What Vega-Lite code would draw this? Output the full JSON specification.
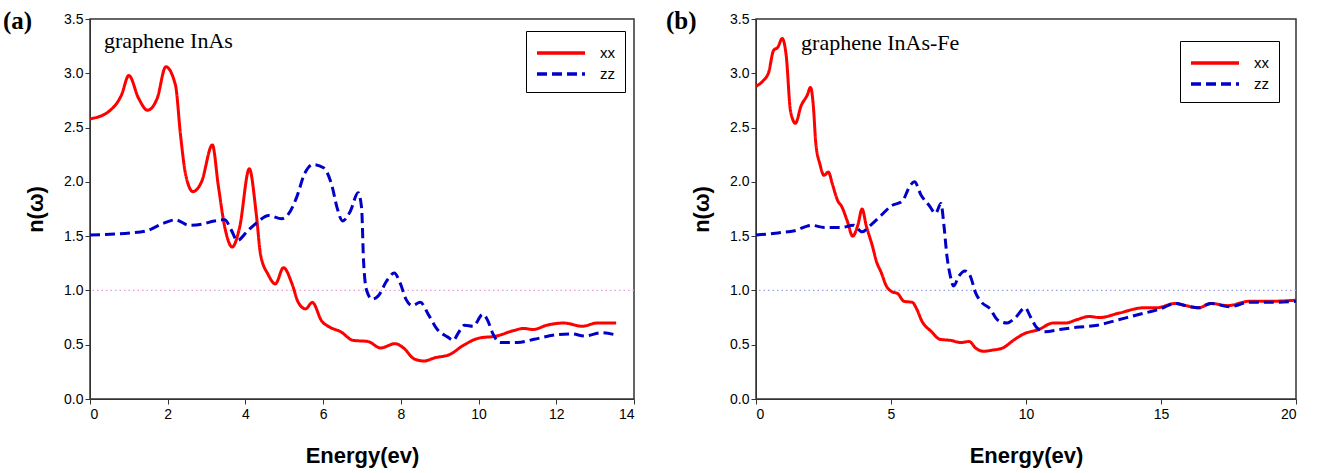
{
  "$schema": "https://vega.github.io/schema/vega-lite/v6.json",
  "padding": {"left": 2, "top": 8, "right": 5, "bottom": 2},
  "background": "white",
  "spacing": 29,
  "config": {
    "view": {"stroke": "#333333", "strokeWidth": 1.5},
    "axis": {
      "grid": false,
      "domainColor": "#333333",
      "tickColor": "#333333",
      "tickSize": 5,
      "labelFont": "Liberation Sans",
      "labelFontSize": 14,
      "labelColor": "black",
      "titleFont": "Liberation Sans",
      "titleFontSize": 22,
      "titleFontWeight": "bold",
      "titleColor": "black"
    },
    "legend": {
      "orient": "none",
      "strokeColor": "black",
      "fillColor": "white",
      "padding": 10,
      "symbolType": "M-2.4,0H2.4",
      "symbolSize": 400,
      "symbolStrokeWidth": 3.5,
      "symbolOffset": 13,
      "labelFont": "Liberation Sans",
      "labelFontSize": 15,
      "labelColor": "black",
      "labelOffset": 27,
      "rowPadding": 1
    },
    "title": {"font": "Liberation Serif", "fontSize": 25, "fontWeight": "bold", "color": "black", "anchor": "start", "frame": "group"}
  },
  "datasets": {
    "a": [
      {"E": 0, "n": 2.58, "s": "xx"}, {"E": 0.49, "n": 2.65, "s": "xx"}, {"E": 0.81, "n": 2.8, "s": "xx"}, {"E": 1.0, "n": 2.98, "s": "xx"},
      {"E": 1.25, "n": 2.77, "s": "xx"}, {"E": 1.48, "n": 2.66, "s": "xx"}, {"E": 1.73, "n": 2.77, "s": "xx"}, {"E": 1.95, "n": 3.06, "s": "xx"},
      {"E": 2.2, "n": 2.89, "s": "xx"}, {"E": 2.33, "n": 2.43, "s": "xx"}, {"E": 2.46, "n": 2.07, "s": "xx"}, {"E": 2.65, "n": 1.91, "s": "xx"},
      {"E": 2.87, "n": 2.0, "s": "xx"}, {"E": 3.15, "n": 2.34, "s": "xx"}, {"E": 3.3, "n": 1.97, "s": "xx"}, {"E": 3.47, "n": 1.58, "s": "xx"},
      {"E": 3.66, "n": 1.4, "s": "xx"}, {"E": 3.85, "n": 1.58, "s": "xx"}, {"E": 4.1, "n": 2.12, "s": "xx"}, {"E": 4.28, "n": 1.7, "s": "xx"},
      {"E": 4.39, "n": 1.33, "s": "xx"}, {"E": 4.58, "n": 1.15, "s": "xx"}, {"E": 4.77, "n": 1.06, "s": "xx"}, {"E": 4.98, "n": 1.21, "s": "xx"},
      {"E": 5.2, "n": 1.06, "s": "xx"}, {"E": 5.36, "n": 0.89, "s": "xx"}, {"E": 5.55, "n": 0.83, "s": "xx"}, {"E": 5.72, "n": 0.89, "s": "xx"},
      {"E": 5.96, "n": 0.72, "s": "xx"}, {"E": 6.18, "n": 0.66, "s": "xx"}, {"E": 6.45, "n": 0.62, "s": "xx"}, {"E": 6.77, "n": 0.54, "s": "xx"},
      {"E": 7.15, "n": 0.53, "s": "xx"}, {"E": 7.48, "n": 0.47, "s": "xx"}, {"E": 7.85, "n": 0.51, "s": "xx"}, {"E": 8.07, "n": 0.47, "s": "xx"},
      {"E": 8.34, "n": 0.37, "s": "xx"}, {"E": 8.59, "n": 0.35, "s": "xx"}, {"E": 8.88, "n": 0.38, "s": "xx"}, {"E": 9.26, "n": 0.41, "s": "xx"},
      {"E": 9.59, "n": 0.49, "s": "xx"}, {"E": 10.0, "n": 0.56, "s": "xx"}, {"E": 10.46, "n": 0.58, "s": "xx"}, {"E": 10.9, "n": 0.63, "s": "xx"},
      {"E": 11.16, "n": 0.65, "s": "xx"}, {"E": 11.4, "n": 0.64, "s": "xx"}, {"E": 11.76, "n": 0.68, "s": "xx"}, {"E": 12.19, "n": 0.7, "s": "xx"},
      {"E": 12.67, "n": 0.67, "s": "xx"}, {"E": 13.05, "n": 0.7, "s": "xx"}, {"E": 13.54, "n": 0.7, "s": "xx"},
      {"E": 0, "n": 1.51, "s": "zz"}, {"E": 1.03, "n": 1.53, "s": "zz"}, {"E": 1.46, "n": 1.55, "s": "zz"}, {"E": 1.9, "n": 1.62, "s": "zz"},
      {"E": 2.2, "n": 1.65, "s": "zz"}, {"E": 2.55, "n": 1.6, "s": "zz"}, {"E": 2.87, "n": 1.61, "s": "zz"}, {"E": 3.2, "n": 1.64, "s": "zz"},
      {"E": 3.47, "n": 1.65, "s": "zz"}, {"E": 3.63, "n": 1.56, "s": "zz"}, {"E": 3.79, "n": 1.46, "s": "zz"}, {"E": 4.06, "n": 1.55, "s": "zz"},
      {"E": 4.28, "n": 1.62, "s": "zz"}, {"E": 4.6, "n": 1.69, "s": "zz"}, {"E": 4.93, "n": 1.66, "s": "zz"}, {"E": 5.1, "n": 1.7, "s": "zz"},
      {"E": 5.31, "n": 1.85, "s": "zz"}, {"E": 5.53, "n": 2.08, "s": "zz"}, {"E": 5.74, "n": 2.16, "s": "zz"}, {"E": 6.01, "n": 2.13, "s": "zz"},
      {"E": 6.23, "n": 1.96, "s": "zz"}, {"E": 6.36, "n": 1.76, "s": "zz"}, {"E": 6.5, "n": 1.64, "s": "zz"}, {"E": 6.7, "n": 1.73, "s": "zz"},
      {"E": 6.9, "n": 1.9, "s": "zz"}, {"E": 6.99, "n": 1.76, "s": "zz"}, {"E": 7.04, "n": 1.27, "s": "zz"}, {"E": 7.12, "n": 1.0, "s": "zz"},
      {"E": 7.26, "n": 0.92, "s": "zz"}, {"E": 7.42, "n": 0.95, "s": "zz"}, {"E": 7.64, "n": 1.09, "s": "zz"}, {"E": 7.83, "n": 1.16, "s": "zz"},
      {"E": 7.98, "n": 1.07, "s": "zz"}, {"E": 8.13, "n": 0.92, "s": "zz"}, {"E": 8.29, "n": 0.86, "s": "zz"}, {"E": 8.5, "n": 0.89, "s": "zz"},
      {"E": 8.72, "n": 0.77, "s": "zz"}, {"E": 8.94, "n": 0.64, "s": "zz"}, {"E": 9.21, "n": 0.57, "s": "zz"}, {"E": 9.35, "n": 0.54, "s": "zz"},
      {"E": 9.48, "n": 0.61, "s": "zz"}, {"E": 9.64, "n": 0.68, "s": "zz"}, {"E": 9.86, "n": 0.67, "s": "zz"}, {"E": 10.11, "n": 0.78, "s": "zz"},
      {"E": 10.24, "n": 0.72, "s": "zz"}, {"E": 10.37, "n": 0.6, "s": "zz"}, {"E": 10.56, "n": 0.52, "s": "zz"}, {"E": 11.0, "n": 0.52, "s": "zz"},
      {"E": 11.43, "n": 0.55, "s": "zz"}, {"E": 11.97, "n": 0.59, "s": "zz"}, {"E": 12.4, "n": 0.6, "s": "zz"}, {"E": 12.73, "n": 0.58, "s": "zz"},
      {"E": 13.16, "n": 0.61, "s": "zz"}, {"E": 13.54, "n": 0.59, "s": "zz"}
    ],
    "b": [
      {"E": 0, "n": 2.88, "s": "xx"}, {"E": 0.26, "n": 2.93, "s": "xx"}, {"E": 0.47, "n": 3.01, "s": "xx"}, {"E": 0.65, "n": 3.21, "s": "xx"},
      {"E": 0.81, "n": 3.24, "s": "xx"}, {"E": 0.97, "n": 3.32, "s": "xx"}, {"E": 1.12, "n": 3.16, "s": "xx"}, {"E": 1.28, "n": 2.65, "s": "xx"},
      {"E": 1.46, "n": 2.54, "s": "xx"}, {"E": 1.67, "n": 2.7, "s": "xx"}, {"E": 1.9, "n": 2.8, "s": "xx"}, {"E": 2.02, "n": 2.87, "s": "xx"},
      {"E": 2.13, "n": 2.68, "s": "xx"}, {"E": 2.21, "n": 2.37, "s": "xx"}, {"E": 2.37, "n": 2.16, "s": "xx"}, {"E": 2.52, "n": 2.06, "s": "xx"},
      {"E": 2.68, "n": 2.09, "s": "xx"}, {"E": 2.84, "n": 1.97, "s": "xx"}, {"E": 3.02, "n": 1.83, "s": "xx"}, {"E": 3.18, "n": 1.77, "s": "xx"},
      {"E": 3.38, "n": 1.64, "s": "xx"}, {"E": 3.58, "n": 1.5, "s": "xx"}, {"E": 3.77, "n": 1.6, "s": "xx"}, {"E": 3.93, "n": 1.75, "s": "xx"},
      {"E": 4.08, "n": 1.6, "s": "xx"}, {"E": 4.31, "n": 1.41, "s": "xx"}, {"E": 4.47, "n": 1.26, "s": "xx"}, {"E": 4.63, "n": 1.17, "s": "xx"},
      {"E": 4.83, "n": 1.04, "s": "xx"}, {"E": 5.02, "n": 0.99, "s": "xx"}, {"E": 5.25, "n": 0.97, "s": "xx"}, {"E": 5.48, "n": 0.9, "s": "xx"},
      {"E": 5.79, "n": 0.89, "s": "xx"}, {"E": 5.95, "n": 0.83, "s": "xx"}, {"E": 6.14, "n": 0.72, "s": "xx"}, {"E": 6.5, "n": 0.62, "s": "xx"},
      {"E": 6.81, "n": 0.55, "s": "xx"}, {"E": 7.2, "n": 0.54, "s": "xx"}, {"E": 7.59, "n": 0.52, "s": "xx"}, {"E": 7.9, "n": 0.53, "s": "xx"},
      {"E": 8.13, "n": 0.47, "s": "xx"}, {"E": 8.44, "n": 0.44, "s": "xx"}, {"E": 8.75, "n": 0.45, "s": "xx"}, {"E": 9.14, "n": 0.47, "s": "xx"},
      {"E": 9.53, "n": 0.54, "s": "xx"}, {"E": 9.92, "n": 0.6, "s": "xx"}, {"E": 10.47, "n": 0.64, "s": "xx"}, {"E": 11.01, "n": 0.7, "s": "xx"},
      {"E": 11.48, "n": 0.7, "s": "xx"}, {"E": 11.87, "n": 0.73, "s": "xx"}, {"E": 12.34, "n": 0.76, "s": "xx"}, {"E": 12.73, "n": 0.75, "s": "xx"},
      {"E": 13.43, "n": 0.79, "s": "xx"}, {"E": 14.36, "n": 0.84, "s": "xx"}, {"E": 14.83, "n": 0.84, "s": "xx"}, {"E": 15.53, "n": 0.88, "s": "xx"},
      {"E": 15.92, "n": 0.86, "s": "xx"}, {"E": 16.39, "n": 0.84, "s": "xx"}, {"E": 16.85, "n": 0.88, "s": "xx"}, {"E": 17.48, "n": 0.86, "s": "xx"},
      {"E": 18.26, "n": 0.9, "s": "xx"}, {"E": 19.03, "n": 0.9, "s": "xx"}, {"E": 20, "n": 0.91, "s": "xx"},
      {"E": 0, "n": 1.51, "s": "zz"}, {"E": 0.81, "n": 1.53, "s": "zz"}, {"E": 1.43, "n": 1.55, "s": "zz"}, {"E": 2.06, "n": 1.6, "s": "zz"},
      {"E": 2.52, "n": 1.58, "s": "zz"}, {"E": 3.15, "n": 1.58, "s": "zz"}, {"E": 3.61, "n": 1.6, "s": "zz"}, {"E": 3.93, "n": 1.54, "s": "zz"},
      {"E": 4.24, "n": 1.6, "s": "zz"}, {"E": 4.63, "n": 1.69, "s": "zz"}, {"E": 5.02, "n": 1.78, "s": "zz"}, {"E": 5.41, "n": 1.82, "s": "zz"},
      {"E": 5.72, "n": 1.97, "s": "zz"}, {"E": 5.87, "n": 2.0, "s": "zz"}, {"E": 6.11, "n": 1.88, "s": "zz"}, {"E": 6.42, "n": 1.78, "s": "zz"},
      {"E": 6.65, "n": 1.71, "s": "zz"}, {"E": 6.85, "n": 1.8, "s": "zz"}, {"E": 6.96, "n": 1.6, "s": "zz"}, {"E": 7.07, "n": 1.32, "s": "zz"},
      {"E": 7.2, "n": 1.13, "s": "zz"}, {"E": 7.32, "n": 1.04, "s": "zz"}, {"E": 7.51, "n": 1.13, "s": "zz"}, {"E": 7.74, "n": 1.18, "s": "zz"},
      {"E": 7.94, "n": 1.13, "s": "zz"}, {"E": 8.13, "n": 0.98, "s": "zz"}, {"E": 8.36, "n": 0.89, "s": "zz"}, {"E": 8.67, "n": 0.83, "s": "zz"},
      {"E": 8.94, "n": 0.73, "s": "zz"}, {"E": 9.3, "n": 0.7, "s": "zz"}, {"E": 9.61, "n": 0.75, "s": "zz"}, {"E": 9.97, "n": 0.84, "s": "zz"},
      {"E": 10.16, "n": 0.76, "s": "zz"}, {"E": 10.39, "n": 0.66, "s": "zz"}, {"E": 10.7, "n": 0.62, "s": "zz"}, {"E": 11.25, "n": 0.64, "s": "zz"},
      {"E": 11.87, "n": 0.66, "s": "zz"}, {"E": 12.65, "n": 0.68, "s": "zz"}, {"E": 13.43, "n": 0.73, "s": "zz"}, {"E": 14.21, "n": 0.78, "s": "zz"},
      {"E": 14.98, "n": 0.83, "s": "zz"}, {"E": 15.53, "n": 0.88, "s": "zz"}, {"E": 15.92, "n": 0.86, "s": "zz"}, {"E": 16.39, "n": 0.84, "s": "zz"},
      {"E": 16.85, "n": 0.88, "s": "zz"}, {"E": 17.55, "n": 0.85, "s": "zz"}, {"E": 18.26, "n": 0.89, "s": "zz"}, {"E": 19.03, "n": 0.89, "s": "zz"},
      {"E": 20, "n": 0.9, "s": "zz"}
    ]
  },
  "resolve": {"scale": {"color": "independent", "strokeDash": "independent"}, "legend": {"color": "independent", "strokeDash": "independent"}},
  "hconcat": [
    {
      "width": 544,
      "height": 380,
      "title": {"text": "(a)", "dx": -87, "offset": -22},
      "layer": [
        {
          "data": {"values": [{}]},
          "mark": {"type": "rule", "color": "#E49BD6", "strokeWidth": 1.3, "strokeDash": [1.5, 3]},
          "encoding": {"y": {"datum": 1}}
        },
        {
          "data": {"values": [{}]},
          "mark": {"type": "text", "font": "Liberation Serif", "fontSize": 22, "align": "left", "baseline": "middle", "color": "black"},
          "encoding": {"x": {"datum": 0.36}, "y": {"datum": 3.3}, "text": {"value": "graphene InAs"}}
        },
        {
          "data": {"name": "a"},
          "mark": {"type": "line", "strokeWidth": 3, "interpolate": "monotone"},
          "encoding": {
            "x": {"field": "E", "type": "quantitative", "scale": {"domain": [0, 14], "nice": false}, "axis": {"values": [0, 2, 4, 6, 8, 10, 12, 14], "title": "Energy(ev)", "titlePadding": 24, "labelPadding": 3}},
            "y": {"field": "n", "type": "quantitative", "scale": {"domain": [0, 3.5], "nice": false}, "axis": {"values": [0, 0.5, 1, 1.5, 2, 2.5, 3, 3.5], "format": ".1f", "title": "n(ω)", "titlePadding": 16}},
            "color": {"field": "s", "type": "nominal", "scale": {"domain": ["xx", "zz"], "range": ["#FF0000", "#0000C8"]}, "legend": {"title": null, "legendX": 436, "legendY": 12}},
            "strokeDash": {"field": "s", "type": "nominal", "scale": {"domain": ["xx", "zz"], "range": [[1, 0], [10, 5]]}, "legend": {"title": null, "legendX": 436, "legendY": 12}}
          }
        }
      ]
    },
    {
      "width": 540,
      "height": 380,
      "title": {"text": "(b)", "dx": -90, "offset": -22},
      "layer": [
        {
          "data": {"values": [{}]},
          "mark": {"type": "rule", "color": "#9AA0EC", "strokeWidth": 1.3, "strokeDash": [1.5, 3]},
          "encoding": {"y": {"datum": 1}}
        },
        {
          "data": {"values": [{}]},
          "mark": {"type": "text", "font": "Liberation Serif", "fontSize": 22, "align": "left", "baseline": "middle", "color": "black"},
          "encoding": {"x": {"datum": 1.67}, "y": {"datum": 3.28}, "text": {"value": "graphene InAs-Fe"}}
        },
        {
          "data": {"name": "b"},
          "mark": {"type": "line", "strokeWidth": 3, "interpolate": "monotone"},
          "encoding": {
            "x": {"field": "E", "type": "quantitative", "scale": {"domain": [0, 20], "nice": false}, "axis": {"values": [0, 5, 10, 15, 20], "title": "Energy(ev)", "titlePadding": 24, "labelPadding": 3}},
            "y": {"field": "n", "type": "quantitative", "scale": {"domain": [0, 3.5], "nice": false}, "axis": {"values": [0, 0.5, 1, 1.5, 2, 2.5, 3, 3.5], "format": ".1f", "title": "n(ω)", "titlePadding": 16}},
            "color": {"field": "s", "type": "nominal", "scale": {"domain": ["xx", "zz"], "range": ["#FF0000", "#0000C8"]}, "legend": {"title": null, "legendX": 424, "legendY": 22}},
            "strokeDash": {"field": "s", "type": "nominal", "scale": {"domain": ["xx", "zz"], "range": [[1, 0], [10, 5]]}, "legend": {"title": null, "legendX": 424, "legendY": 22}}
          }
        }
      ]
    }
  ]
}
